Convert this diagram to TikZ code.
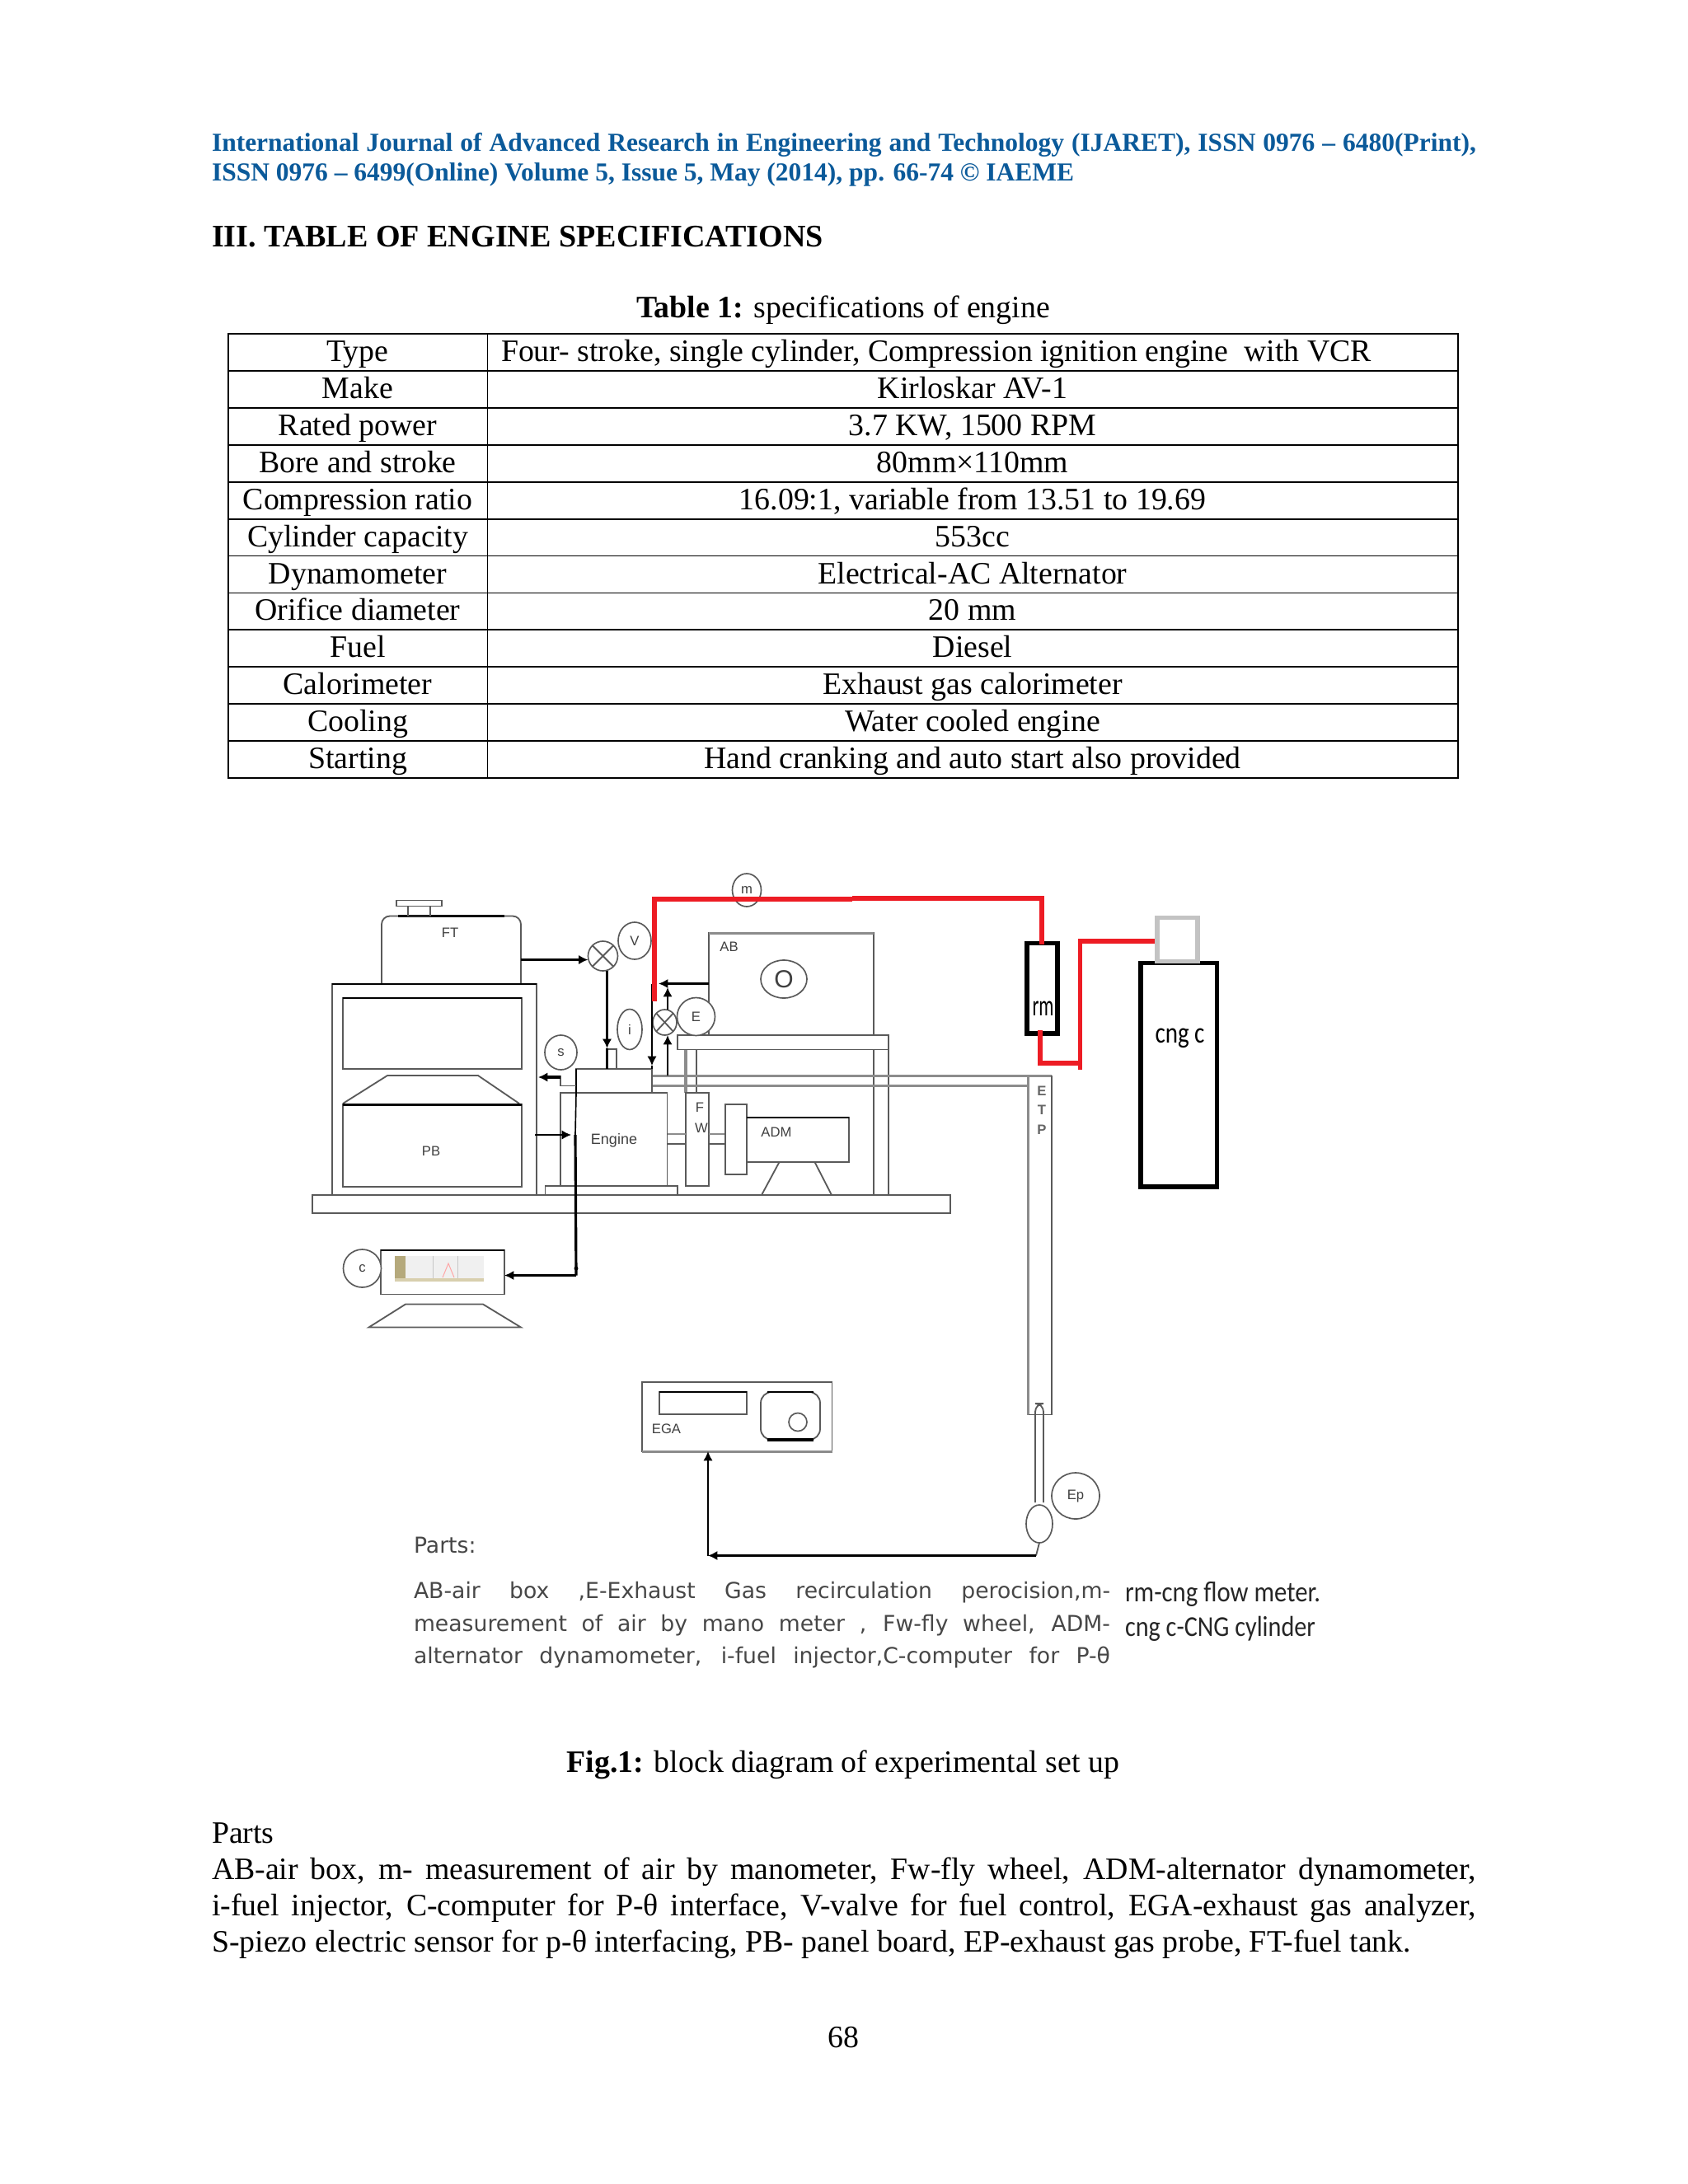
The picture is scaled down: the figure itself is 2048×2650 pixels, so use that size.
\documentclass[tikz,border=0pt]{standalone}
\usepackage{fontspec}
\usepackage{graphicx}
\setmainfont{Liberation Serif}
\newfontfamily\cbrfont{Carlito}
\newfontfamily\lsfont{Liberation Sans}
\newfontfamily\djfont{DejaVu Sans}
\usetikzlibrary{arrows.meta,shapes.geometric}
\definecolor{jblue}{HTML}{0B5A9A}
\definecolor{redp}{HTML}{ED1C24}
\definecolor{gl}{HTML}{5A5A5A}
\definecolor{glt}{HTML}{8C8C8C}
\definecolor{capg}{HTML}{C3C3C3}
\definecolor{khak}{HTML}{B5A97C}
\definecolor{khal}{HTML}{D8CFAE}
\tikzset{
  x=0.3pt,y=-0.3pt,
  rectb/.style={draw=gl,line width=0.55pt,inner sep=0,outer sep=0},
  ellb/.style={ellipse,draw=gl,line width=0.5pt,fill=white,inner sep=0,outer sep=0,font=\lsfont\fontsize{5}{5}\selectfont,text=black!75},
  gln/.style={draw=gl,line width=0.55pt},
  glh/.style={draw=glt,line width=0.9pt},
  blk/.style={draw=black,line width=0.95pt},
  blt/.style={draw=black,line width=0.5pt},
  redl/.style={draw=redp,line width=1.8pt},
  arr/.style={-{Latex[length=3.4pt,width=3.4pt]}},
  lab/.style={inner sep=0,outer sep=0,font=\lsfont\fontsize{5}{5}\selectfont,text=black!75},
  txt/.style={inner sep=0,outer sep=0,anchor=base west,font=\fontsize{11.35}{12}\selectfont},
  ctr/.style={inner sep=0,outer sep=0,anchor=base,font=\fontsize{11.35}{12}\selectfont},
  blur/.style={inner sep=0,outer sep=0,anchor=base west,text=black!72,font=\djfont\fontsize{8}{8}\selectfont},
  calb/.style={inner sep=0,outer sep=0,anchor=base west,text=black!85,font=\cbrfont\fontsize{10.5}{10.5}\selectfont},
  cal/.style={inner sep=0,outer sep=0,anchor=base,font=\cbrfont\fontsize{10.8}{10.8}\selectfont}
}
\newcommand\mybox[6][]{\pgfmathsetmacro\myw{(#4-#2)*0.3}\pgfmathsetmacro\myh{(#5-#3)*0.3}\node[rectb,anchor=north west,minimum width=\myw pt,minimum height=\myh pt,#1] (#6) at (#2,#3) {};}
\newcommand\myell[7][]{\pgfmathsetmacro\myw{2*#5*0.3}\pgfmathsetmacro\myh{2*#6*0.3}\node[ellb,minimum width=\myw pt,minimum height=\myh pt,#1] (#2) at (#3,#4) {#7};}
\begin{document}
\begin{tikzpicture}
\useasboundingbox (0,0) rectangle (2048,2650);
\fill[white] (0,0) rectangle (2048,2650);

% header
\node[txt,font=\bfseries\fontsize{9.45}{10}\selectfont,text=jblue] (h1) at (257,183) {\makebox[460.2pt][s]{International Journal of Advanced Research in Engineering and Technology (IJARET), ISSN 0976 – 6480(Print),}};
\node[txt,font=\bfseries\fontsize{9.45}{10}\selectfont,text=jblue] (h2) at (257,219.5) {ISSN 0976 – 6499(Online) Volume 5, Issue 5, May (2014), pp. 66-74 © IAEME};
\node[txt,font=\bfseries\fontsize{11.42}{12}\selectfont] (sec) at (257,299) {III. TABLE OF ENGINE SPECIFICATIONS};
\node[ctr] (tcap) at (1023,385) {\textbf{Table 1:} specifications of engine};

% table
\draw[line width=0.55pt] (277,405) rectangle (1769,944);
\draw[line width=0.55pt] (591.5,405) -- (591.5,944);
\foreach \i in {1,...,11} \draw[line width=0.55pt] (277,405+\i*44.92) -- (1769,405+\i*44.92);
\foreach \nm/\i/\ta/\tb in {
 a/0/Type/,b/1/Make/Kirloskar AV-1,c/2/Rated power/{3.7 KW, 1500 RPM},d/3/Bore and stroke/80mm×110mm,
 e/4/Compression ratio/{16.09:1, variable from 13.51 to 19.69},f/5/Cylinder capacity/553cc,
 g/6/Dynamometer/Electrical-AC Alternator,h/7/Orifice diameter/20 mm,i/8/Fuel/Diesel,
 j/9/Calorimeter/Exhaust gas calorimeter,k/10/Cooling/Water cooled engine,l/11/Starting/Hand cranking and auto start also provided}{
  \node[ctr] (l\nm) at (434,405+\i*44.92+33.5) {\ta};
  \node[ctr] (r\nm) at (1180,405+\i*44.92+33.5) {\tb};
}
\node[txt] (rtype) at (608,438.5) {Four- stroke, single cylinder, Compression ignition engine \ with VCR};

% diagram: fuel tank and panel
\draw[gln,rounded corners=3pt] (463,1194) -- (463,1111.5) -- (632,1111.5) -- (632,1194);
\draw[blk,line width=0.7pt] (483,1111.5) -- (612,1111.5);
\mybox{495}{1099.5}{522}{1111.5}{ftstem}
\mybox{481}{1092.5}{536}{1099.5}{ftcap}
\node[lab] (ftl) at (546,1132) {FT};
\mybox{403}{1194}{651}{1450}{panel}
\draw[blk,line width=0.8pt] (403,1194) -- (651,1194);
\mybox{416}{1211}{633}{1297}{pup}
\draw[blk,line width=0.8pt] (416,1211) -- (633,1211);
\draw[gln] (416,1339) -- (470,1305) -- (580,1305) -- (630,1339);
\mybox{416}{1340}{633}{1440}{pb}
\draw[blk,line width=0.9pt] (416,1340) -- (633,1340);
\node[lab] (pbl) at (523,1397) {PB};
\mybox{379}{1450}{1153}{1472}{basep}

% shelf and air box
\draw[gln] (1060,1273.5) -- (1060,1450);
\draw[gln] (1078.4,1273.5) -- (1078.4,1450);
\draw[glh,line width=1.1pt] (832,1273.5) -- (832,1326);
\draw[gln] (845,1273.5) -- (845,1326);
\mybox{860}{1132}{1060}{1256}{ab}
\draw[glh] (860,1132) -- (1060,1132);
\node[lab] (abl) at (884.5,1148.5) {AB};
\myell{oc}{951}{1188}{28}{23}{\fontsize{9}{9}\selectfont O}
\mybox[fill=white]{821.7}{1256}{1078.4}{1273.5}{shelf}

% exhaust pipe
\draw[glh] (791,1305) -- (1276,1305);
\draw[glh,line width=0.75pt] (791,1317.5) -- (1247.5,1317.5);
\draw[glh,line width=1.1pt] (1247.5,1305) -- (1247.5,1716.5);
\draw[gln,line width=0.7pt] (1276,1305) -- (1276,1716.5);
\draw[gln] (1247.5,1716.5) -- (1276,1716.5);
\node[lab,font=\lsfont\bfseries\fontsize{5}{5}\selectfont,text=black!60] (etpe) at (1264,1324) {E};
\node[lab,font=\lsfont\bfseries\fontsize{5}{5}\selectfont,text=black!60] (etpt) at (1264,1347) {T};
\node[lab,font=\lsfont\bfseries\fontsize{5}{5}\selectfont,text=black!60] (etpp) at (1264,1371) {P};

% engine
\mybox{680}{1326}{809.5}{1439}{engine}
\node[lab,font=\lsfont\fontsize{5.4}{5.4}\selectfont] (engl) at (745,1384) {Engine};
\mybox[fill=white]{699}{1297}{791}{1326}{head}
\draw[blk,line width=0.7pt] (699,1297) -- (699,1326);
\mybox{661.5}{1439}{822}{1450}{ebase}
\draw[gln] (680,1305) -- (680,1317.5) -- (699,1317.5);
\mybox{832}{1326}{860}{1439}{fly}
\node[lab] (fwf) at (849,1344) {F};
\node[lab] (fww) at (851,1369) {W};
\draw[glt,line width=0.6pt] (809.5,1375.5) -- (832,1375.5);
\draw[gl,line width=0.75pt] (809.5,1388) -- (832,1388);
\draw[glt,line width=0.6pt] (860,1375.5) -- (880,1375.5);
\draw[gl,line width=0.75pt] (860,1388) -- (880,1388);
\mybox{880}{1340}{906}{1425}{flange}
\mybox{906}{1356}{1030}{1410}{adm}
\draw[blk,line width=0.7pt] (906,1356) -- (1030,1356);
\node[lab] (adml) at (942,1373.5) {ADM};
\draw[gln] (945.5,1410) -- (924,1450);
\draw[gln] (988.5,1410) -- (1009,1450);

% valves and callouts
\node[ellb,minimum width=10.8pt,minimum height=10.8pt] (v1) at (731.5,1160) {};
\draw[gln] (v1.north west) -- (v1.south east);
\draw[gln] (v1.north east) -- (v1.south west);
\node[ellb,minimum width=8.7pt,minimum height=9.3pt] (v2) at (806.5,1240.5) {};
\draw[gln] (v2.north west) -- (v2.south east);
\draw[gln] (v2.north east) -- (v2.south west);
\myell{vl}{770}{1141.5}{20}{22.5}{V}
\myell{il}{764}{1249}{15}{24.5}{i}
\myell{sl}{680.5}{1277}{19.5}{21}{s}
\myell{el}{844.5}{1233.5}{23}{23}{E}
\myell{ml}{906}{1080}{17.5}{20}{m}

% connectors
\mybox{736.5}{1273}{748}{1297}{injector}
\coordinate (inj) at (736.5,1297);
\coordinate (injm) at (736.5,1272);
\coordinate (ftout) at (632,1164.5);
\draw[blk,arr] (ftout) -- (ftout -| v1.west);
\draw[blk,arr] (v1.south) ++(5,0) coordinate (v1s) -- (injm);
\draw[blk] (injm) -- (inj);
\coordinate (hl) at (653,1307);
\coordinate (hs) at (680,1307);
\draw[blk,arr] (hs) -- (hl);
\coordinate (abl0) at (860,1193.5);
\coordinate (abl1) at (799,1193.5);
\draw[blk,arr] (abl0) -- (abl1);
\coordinate (epipe) at (810,1305);
\coordinate (v2b) at (810,1256);
\coordinate (v2t) at (810,1225);
\coordinate (ab2) at (810,1198);
\draw[blt,line width=0.7pt,arr] (epipe) -- (v2b);
\draw[blt,line width=0.7pt,arr] (v2t) -- (ab2);
\coordinate (ivt) at (791,1193.5);
\coordinate (ivm) at (791,1293);
\draw[blt,arr] (ivt) -- (ivm);
\draw[blt] (ivm) -- (791,1297);
\coordinate (pbo) at (649,1377);
\coordinate (ejn) at (698,1377);
\coordinate (eji) at (693,1377);
\draw[blt,arr] (pbo) -- (eji);
\draw[blt] (699,1326) -- (ejn);
\coordinate (cor) at (699,1547.5);
\draw[blk] (ejn) -- (cor);
\fill (699,1539) circle (2.5);

% red line
\coordinate (r0) at (794,1215);
\coordinate (r1) at (794,1091);
\coordinate (r2) at (1034,1091);
\coordinate (r3) at (1034,1089.5);
\coordinate (r4) at (1264,1089.5);
\coordinate (r5) at (1264,1146);
\draw[redl] (r0) -- (r1) -- (r2);
\draw[redl] (r3) -- (r4) -- (r5);

% flow meter and cylinder
\mybox[draw=black,line width=1.65pt]{1246}{1144.5}{1283}{1254}{rm}
\node[cal] (rml) at (1265.5,1232) {\resizebox{7.8pt}{\height}{rm}};
\draw[redl] (r4) -- (r5);
\coordinate (r6) at (1262,1250);
\coordinate (r7) at (1262,1290);
\coordinate (r8) at (1310.5,1290);
\coordinate (r9) at (1310.5,1297.5);
\coordinate (r10) at (1310.5,1142);
\coordinate (r11) at (1404,1142);
\draw[redl,line width=1.6pt] (r6) -- (r7) -- (r8);
\draw[redl,line width=1.6pt] (r9) -- (r10) -- (r11);
\mybox[draw=black,line width=1.75pt]{1384}{1168.5}{1476.5}{1440}{cyl}
\node[cal] (cyll) at (1431.5,1265) {\resizebox{18pt}{\height}{cng c}};
\mybox[draw=capg,line width=1.6pt,fill=white]{1404}{1113.5}{1453}{1166.5}{cylcap}

% computer
\coordinate (cin) at (612,1547.5);
\mybox{462}{1517}{612}{1570.5}{mon}
\draw[blk,line width=0.7pt] (462,1517) -- (612,1517);
\fill[black!6] (479,1524) rectangle (587,1554);
\fill[khak] (479,1524) rectangle (492,1554);
\fill[khal] (479,1551) rectangle (587,1554.5);
\draw[black!22,line width=0.25pt] (525,1524) -- (525,1551) (555,1524) -- (555,1551);
\draw[red!35,line width=0.3pt] (537,1550) -- (544,1533) -- (551,1550);
\draw[blk,arr] (cor) -- (cin);
\myell{cl}{439.5}{1539}{23}{23}{c}
\draw[gln] (447.5,1610.5) -- (492,1582.5) -- (586,1582.5) -- (632,1610.5) -- cycle;

% EGA
\mybox{779}{1677}{1009.5}{1761}{ega}
\draw[glh] (779,1761) -- (1009.5,1761);
\mybox{800}{1689}{906}{1716}{egad}
\draw[blk,line width=0.7pt] (800,1689) -- (906,1689);
\draw[gln,rounded corners=4pt] (923,1689) rectangle (995,1747);
\draw[blk,line width=1.1pt] (931,1747) -- (987,1747);
\draw[blk,line width=0.7pt] (931,1689) -- (987,1689);
\node[ellipse,draw=gl,line width=0.5pt,minimum width=6.6pt,minimum height=6.6pt,inner sep=0] (egac) at (968,1725.5) {};
\node[lab] (egal) at (808.5,1734) {EGA};

% probe
\draw[gln,rounded corners=3pt] (1256,1823) -- (1256,1703) -- (1266,1703) -- (1266,1823);
\myell{pr}{1261}{1849}{16}{23}{}
\myell{ep}{1305}{1815}{29}{28}{Ep}
\coordinate (pb0) at (1257,1887.5);
\coordinate (pb1) at (859,1887.5);
\coordinate (egai) at (859,1761);
\draw[gln] (pr.south) -- (pb0);
\draw[blk,line width=0.7pt,arr] (pb0) -- (pb1);
\draw[blt,arr] (pb1) -- (egai);

% parts in figure
\node[blur] (bp) at (502,1884) {Parts:};
\node[blur] (b1) at (502,1939) {\makebox[253.5pt][s]{AB-air box ,E-Exhaust Gas recirculation perocision,m-}};
\node[blur] (b2) at (502,1979) {\makebox[253.5pt][s]{measurement of air by mano meter , Fw-fly wheel, ADM-}};
\node[blur] (b3) at (502,2018) {\makebox[253.5pt][s]{alternator dynamometer, i-fuel injector,C-computer for P-θ}};
\node[calb] (c1) at (1365,1943) {\resizebox{71.1pt}{\height}{rm-cng flow meter.}};
\node[calb] (c2) at (1365,1985) {\resizebox{69.3pt}{\height}{cng c-CNG cylinder}};

% lower text
\node[ctr] (figc) at (1023,2150) {\textbf{Fig.1:} block diagram of experimental set up};
\node[txt] (p0) at (257,2236) {Parts};
\node[txt] (p1) at (257,2280) {\makebox[460.2pt][s]{AB-air box, m- measurement of air by manometer, Fw-fly wheel, ADM-alternator dynamometer,}};
\node[txt] (p2) at (257,2324) {\makebox[460.2pt][s]{i-fuel injector, C-computer for P-θ interface, V-valve for fuel control, EGA-exhaust gas analyzer,}};
\node[txt] (p3) at (257,2368) {S-piezo electric sensor for p-θ interfacing, PB- panel board, EP-exhaust gas probe, FT-fuel tank.};
\node[ctr] (pg) at (1023,2484) {68};
\end{tikzpicture}
\end{document}
